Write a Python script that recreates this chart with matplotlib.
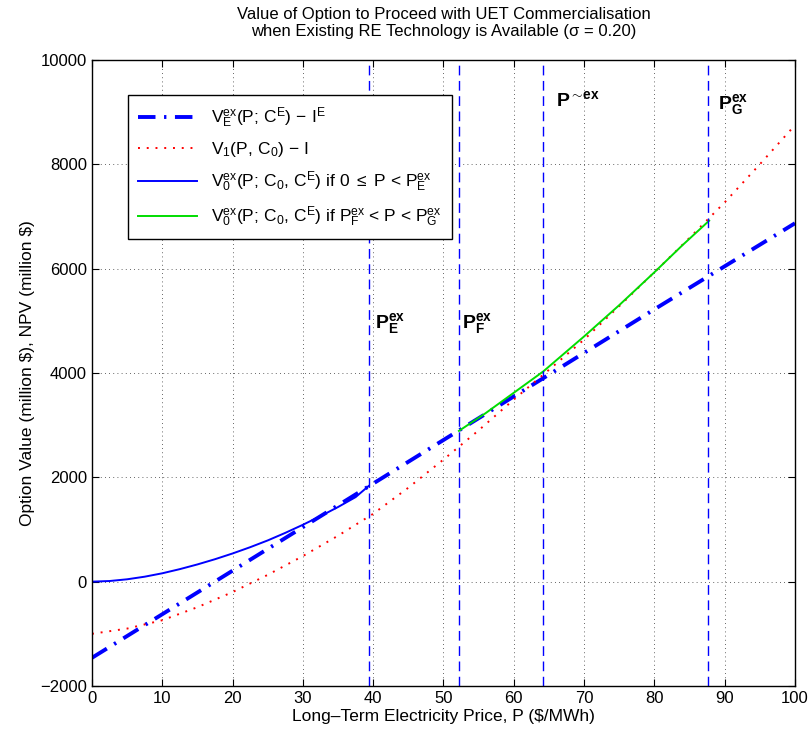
import matplotlib
matplotlib.use('Agg')
import matplotlib.pyplot as plt

plt.rcParams['font.family'] = ['Liberation Sans', 'DejaVu Sans']
plt.rcParams['mathtext.fontset'] = 'custom'
plt.rcParams['mathtext.rm'] = 'Liberation Sans'
plt.rcParams['mathtext.it'] = 'Liberation Sans'
plt.rcParams['mathtext.bf'] = 'Liberation Sans:bold'
plt.rcParams['mathtext.default'] = 'regular'

# values
price_e = [0, 20, 40, 60, 80, 100]
npv_e = [-1460, 210, 1880, 3550, 5220, 6870]

price_1 = [0, 5, 10, 15, 20, 25, 30, 35, 40, 45, 50, 55, 60, 65, 70, 75, 80, 85, 90, 95, 100]
npv_1 = [-1000, -900, -740, -490, -200, 130, 490, 880, 1300, 1800, 2340, 2900, 3490, 4060,
         4640, 5280, 5930, 6590, 7270, 8000, 8750]

price_0a = [0, 2.5, 5, 7.5, 10, 12.5, 15, 17.5, 20, 22.5, 25, 27.5, 30, 32.5, 35, 37.5, 39.35]
npv_0a = [0, 12, 45, 95, 160, 240, 330, 430, 540, 660, 790, 935, 1090, 1255, 1430, 1620, 1833]

price_0b = [52.2, 56, 60, 64.2, 70, 75, 80, 84, 87.8]
npv_0b = [2890, 3230, 3620, 4030, 4700, 5300, 5930, 6450, 6920]

thresholds = [39.35, 52.2, 64.2, 87.7]
threshold_labels = [r'$\mathbf{P^{ex}_{E}}$', r'$\mathbf{P^{ex}_{F}}$',
                    r'$\mathbf{P^{\sim\!ex}}$', r'$\mathbf{P^{ex}_{G}}$']
label_x = [40.2, 52.7, 66.0, 89.1]
label_y = [4870, 4870, 9110, 9060]

fig = plt.figure(figsize=(8.11, 7.38), dpi=100)
ax = fig.add_axes([0.1134, 0.0705, 0.8668, 0.8482])

ax.plot(price_e, npv_e, color='b', lw=2.8, linestyle=(0, (4.5, 2.2, 0.6, 2.2)),
        label=r'$V^{ex}_{E}(P;\, C^{E})\,-\,I^{E}$')
ax.plot(price_1, npv_1, color='r', lw=1.4, linestyle=(0, (1, 3.5)),
        label=r'$V_{1}(P,\, C_{0})\,-\,I$')
ax.plot(price_0a, npv_0a, color='b', lw=1.4,
        label=r'$V^{ex}_{0}(P;\, C_{0},\, C^{E})$ if 0 $\leq$ P < $P^{ex}_{E}$')
ax.plot(price_0b, npv_0b, color='#00dd00', lw=1.4,
        label=r'$V^{ex}_{0}(P;\, C_{0},\, C^{E})$ if $P^{ex}_{F}$ < P < $P^{ex}_{G}$')

for t in thresholds:
    ax.axvline(t, color='b', lw=1, linestyle=(0, (7, 4)))

for x, y, s in zip(label_x, label_y, threshold_labels):
    ax.text(x, y, s, fontsize=14, ha='left', va='baseline')

ax.set_xlim(0, 100)
ax.set_ylim(-2000, 10000)
ax.set_xticks(range(0, 101, 10))
ax.set_yticks(range(-2000, 10001, 2000))
ax.tick_params(direction='in', top=True, right=True, length=5, labelsize=12)
ax.grid(True, color='#333333', lw=0.6, linestyle=(0, (1, 4)))
for s in ax.spines.values():
    s.set_linewidth(1.0)

ax.set_xlabel(r'Long–Term Electricity Price, P (\$/MWh)', fontsize=12.5, labelpad=2)
ax.set_ylabel(r'Option Value (million \$), NPV (million \$)', fontsize=12.5)
ax.set_title('Value of Option to Proceed with UET Commercialisation\n'
             'when Existing RE Technology is Available (σ = 0.20)', fontsize=12, pad=17)

leg = ax.legend(loc='upper left', bbox_to_anchor=(0.051, 0.944), borderaxespad=0,
                fontsize=12.5, handlelength=3.4, fancybox=False, framealpha=1,
                edgecolor='k', labelspacing=0.6, borderpad=0.6)
leg.get_frame().set_linewidth(1.0)

fig.savefig('out.png', dpi=100)
